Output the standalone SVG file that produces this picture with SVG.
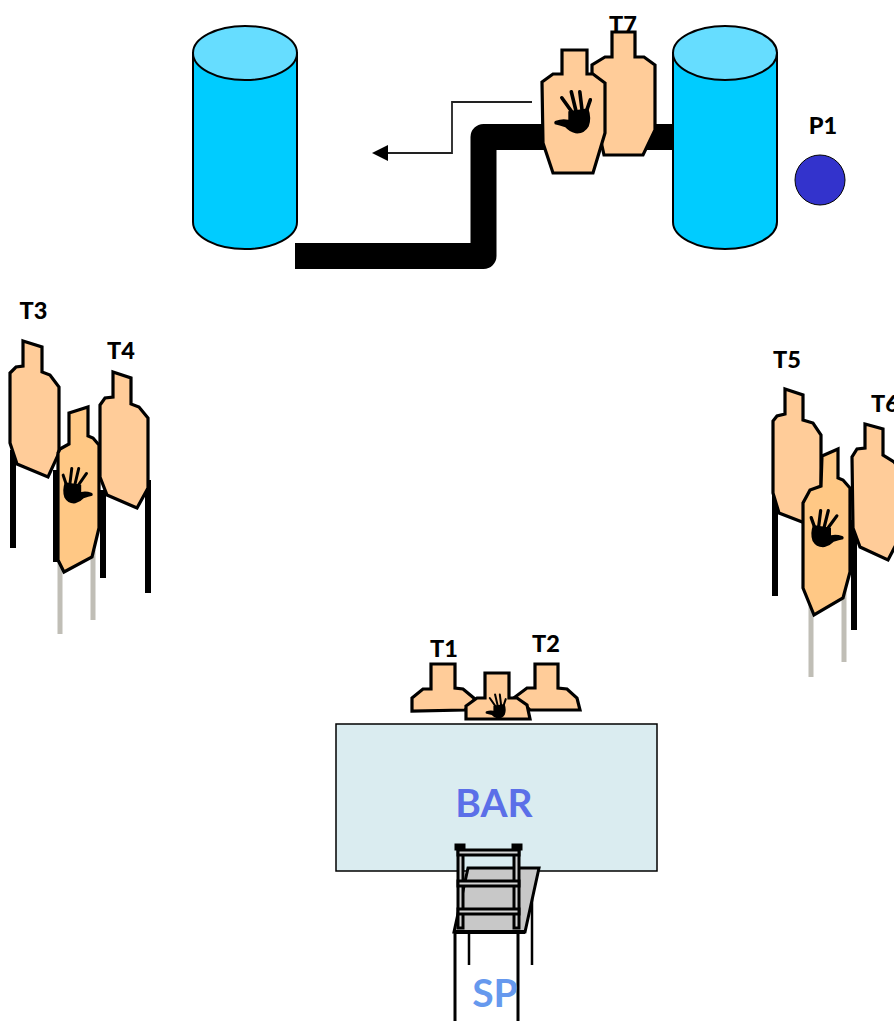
<svg xmlns="http://www.w3.org/2000/svg" width="894" height="1021" viewBox="0 0 894 1021">
<style>
.t{fill:#FFCC99;stroke:#000;stroke-width:3.200;stroke-linejoin:miter}
.c{fill:#FFC885;stroke:#000;stroke-width:3.200;stroke-linejoin:miter}
.pb{stroke:#000;stroke-width:6;fill:none}
.pg{stroke:#C0BEB6;stroke-width:5;fill:none}
.lb{font-family:"Lato","Open Sans",sans-serif;font-weight:900;font-size:23.500px;fill:#000;text-anchor:middle}
.big{font-family:"Lato","Open Sans",sans-serif;font-weight:700;font-size:39px;text-anchor:middle}
.cy{fill:#00CCFF;stroke:#000;stroke-width:2}
.ct{fill:#66DDFF;stroke:#000;stroke-width:2}
.r{fill:#D4D4D4;stroke:#000;stroke-width:3}
.fg{stroke:#000;stroke-width:3.600;stroke-linecap:round;fill:none}
</style>
<defs>
<g id="hand">
<path class="fg" d="M8.500 9.500L21 27M18 3.500L23 24M26.500 3.500L29 24M37 11.500L32 26"/>
<path d="M15 23L35 20Q38.500 30 35.500 38Q31 46 22 45Q16 43.500 12 39Q6 37 1.500 36Q0 33.500 2.500 32.500Q9 30 15 31.500Z" fill="#000"/>
</g>
</defs>

<g id="connectors">
<path id="pipe" d="M295 256H483.500V137H680" fill="none" stroke="#000" stroke-width="26" stroke-linejoin="round"/>
<path id="move-arrow" d="M532 102H452V153H386" fill="none" stroke="#222" stroke-width="1.800"/>
<path d="M372 153L388 145V161Z" fill="#000"/>
</g>

<g id="barrel-left">
<path class="cy" d="M193 53V222A52 27 0 0 0 297 222V53Z"/>
<ellipse class="ct" cx="245" cy="53" rx="52" ry="27"/>
</g>
<g id="barrel-right">
<path class="cy" d="M673 53V222A52 27 0 0 0 777 222V53Z"/>
<ellipse class="ct" cx="725" cy="53" rx="52" ry="27"/>
</g>

<g id="P1">
<circle cx="820" cy="180" r="25" fill="#3333CC" stroke="#000" stroke-width="1"/>
<text class="lb" x="823" y="134">P1</text>
</g>

<g id="T7">
<text class="lb" x="623" y="33">T7</text>
<polygon class="t" points="612,32 635,32 635,57 644,57 655,65 655,130 643,155 604,155 592,100 592,65 605,57 612,57"/>
</g>
<g id="NS-top">
<polygon class="t" points="562,50 587,50 587,74 593,74 605,83 605,133 593,173 553,173 543,143 542,82 553,74 562,74"/>
<use href="#hand" transform="translate(553.300 88.300)"/>
</g>

<g id="T3">
<text class="lb" x="33.500" y="319">T3</text>
<path class="pb" d="M13 450V548"/>
<path class="pb" d="M57 470V562" style="stroke-width:8"/>
<polygon class="t" points="23,341 42,347 42,372 50,375 59,387 59,453 48,477 17,464 10,443 10,373 16,367 23,366"/>
</g>
<g id="T4">
<text class="lb" x="121" y="359">T4</text>
<path class="pb" d="M103 490V578M148 480V593"/>
<polygon class="t" points="113,372 131,378 131,404 139,407 148,418 148,488 137,508 107,495 100,477 100,405 105,398 113,397"/>
</g>
<g id="NS-left">
<path class="pg" d="M60 560V634M93 550V620"/>
<polygon class="c" points="69,413 88,407 88,436 93,438 99,445 99,528 92,557 64,572 58,560 58,453 60,449 69,444"/>
<use href="#hand" transform="translate(93.500 465.500) scale(-0.82 0.84)"/>
</g>

<g id="T5">
<text class="lb" x="787" y="368">T5</text>
<path class="pb" d="M775 490V596"/>
<polygon class="t" points="785,389 803,395 803,420 813,423 821,435 821,507 810,525 779,513 773,493 773,421 777,416 785,414"/>
</g>
<g id="T6">
<text class="lb" x="885" y="412">T6</text>
<path class="pb" d="M854 520V630"/>
<polygon class="t" points="865,424 883,429 883,455 894,462 901,470 901,535 888,560 860,547 853,528 852,457 857,449 865,448"/>
</g>
<g id="NS-right">
<path class="pg" d="M811 600V677M844 590V662"/>
<polygon class="c" points="822,456 838,449 838,478 843,480 850,488 850,572 843,598 814,615 803,588 803,503 810,490 821,486"/>
<use href="#hand" transform="translate(844.500 507.500) scale(-0.9 0.88)"/>
</g>

<g id="T1">
<text class="lb" x="444" y="657">T1</text>
<polygon class="t" points="431,664 455,664 455,688 463,689 475,699 465,710 412,711 412,698 423,689 431,689"/>
</g>
<g id="T2">
<text class="lb" x="546" y="652">T2</text>
<polygon class="t" points="535,664 558,664 558,688 567,689 577,698 580,710 530,710 515,697 527,688 535,688"/>
</g>
<g id="NS-bottom">
<polygon class="t" points="485,673 509,673 509,698 517,698 527,705 530,719 466,719 466,706 477,698 485,698"/>
<use href="#hand" transform="translate(485 692.500) scale(0.56 0.58)"/>
</g>

<g id="BAR">
<rect x="336" y="724" width="321" height="147" fill="#DAECF0" stroke="#000" stroke-width="1.500"/>
<text class="big" x="494" y="817" fill="#5B6FE8">BAR</text>
</g>

<g id="SP">
<path d="M455 930V1021M518 930V1021" stroke="#000" stroke-width="3" fill="none"/>
<path d="M469 932V965M532 880V965" stroke="#000" stroke-width="2.500" fill="none"/>
<text class="big" x="495" y="1007" fill="#6699EE">SP</text>
</g>

<g id="ladder">
<polygon points="468,868 539,868 525,932 454,932" fill="#C8C8C8" stroke="#000" stroke-width="3"/>
<rect class="r" x="458" y="846" width="5" height="82"/>
<rect class="r" x="514" y="846" width="5" height="82"/>
<rect class="r" x="456" y="845" width="8" height="4" style="fill:#000"/>
<rect class="r" x="513" y="845" width="8" height="4" style="fill:#000"/>
<rect class="r" x="458" y="850" width="61" height="5"/>
<rect class="r" x="458" y="881" width="61" height="5"/>
<rect class="r" x="458" y="909" width="61" height="5"/>
<path d="M454 932H525" stroke="#000" stroke-width="4"/>
</g>
</svg>
